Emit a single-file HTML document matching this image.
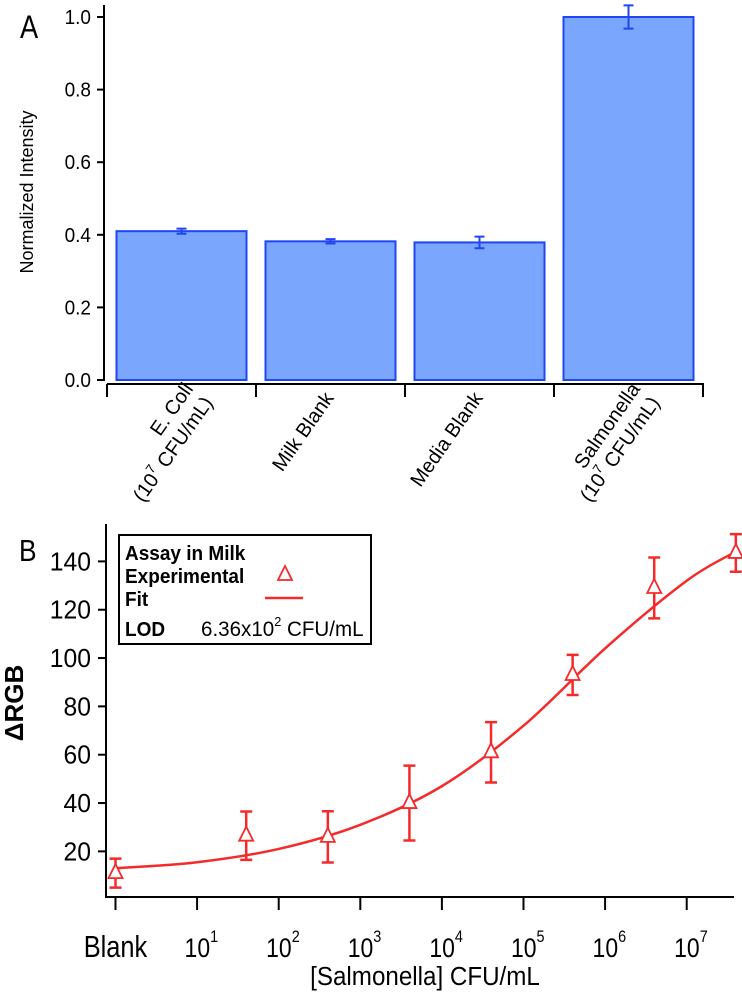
<!DOCTYPE html>
<html><head><meta charset="utf-8"><style>
html,body{margin:0;padding:0;background:#fff;}
svg{display:block;font-family:"Liberation Sans",Arial,sans-serif;}
</style></head><body>
<svg id="chart" width="742" height="992" viewBox="0 0 742 992" xmlns="http://www.w3.org/2000/svg">
<g id="pa"></g>
<g id="pb"></g>
</svg>
<script>
// Panel A data
const catsA = ["E. Coli|(10^7 CFU/mL)", "Milk Blank", "Media Blank", "Salmonella|(10^7 CFU/mL)"];
const valsA = [0.41, 0.382, 0.379, 1.0];
const errsA = [0.007, 0.006, 0.016, 0.032];
const ticksA = [0.0, 0.2, 0.4, 0.6, 0.8, 1.0];
// Panel B data
const xLogB = [0, 1.602, 2.602, 3.602, 4.602, 5.602, 6.602, 7.602];
const valsB = [11, 26.5, 26, 40, 61, 93, 129, 143.5];
const errsB = [6, 10, 10.6, 15.5, 12.5, 8.3, 12.6, 7.8];
const fitLogB = [0, 1, 2, 3, 4, 5, 6, 7, 7.6];
const fitValsB = [13, 15.5, 21, 31, 47, 72, 104, 132, 144];
const ticksBY = [20, 40, 60, 80, 100, 120, 140];
const ticksBX = [0, 1, 2, 3, 4, 5, 6, 7];

const NS = "http://www.w3.org/2000/svg";
function mk(parent, tag, attrs, text) {
  const e = document.createElementNS(NS, tag);
  for (const k in attrs) e.setAttribute(k, attrs[k]);
  if (text !== undefined) e.textContent = text;
  parent.appendChild(e);
  return e;
}
const pa = document.getElementById('pa');
const pb = document.getElementById('pb');

// ---------- Panel A ----------
const yA = v => 380 - v * 363;
const bandW = 149, x0A = 107;
const xA = i => x0A + bandW * i + bandW / 2;
let t;
t = mk(pa, 'text', {x: 20, y: 38, 'font-size': 32, transform: 'translate(20,0) scale(0.85,1) translate(-20,0)'}, 'A');


let ax = mk(pa, 'line', {x1: 104, y1: 5, x2: 104, y2: 381, stroke: '#000', 'stroke-width': 2});


ticksA.forEach(v => {
  const l = mk(pa, 'line', {x1: 97, x2: 104, y1: yA(v), y2: yA(v), stroke: '#000', 'stroke-width': 2});
  
  
  const tx = mk(pa, 'text', {x: 91, y: yA(v) + 7, 'font-size': 20, 'text-anchor': 'end', transform: `translate(91,0) scale(0.95,1) translate(-91,0)`}, v.toFixed(1));
  
  
});
t = mk(pa, 'text', {x: 0, y: 0, 'font-size': 18, 'text-anchor': 'middle', transform: 'translate(33,192) rotate(-90)'}, 'Normalized Intensity');


ax = mk(pa, 'line', {x1: 107, y1: 384, x2: 704, y2: 384, stroke: '#000', 'stroke-width': 2});


for (let i = 0; i <= catsA.length; i++) {
  const xx = x0A + bandW * i;
  const l = mk(pa, 'line', {x1: xx, x2: xx, y1: 384, y2: 397, stroke: '#000', 'stroke-width': 2});
  
  
}
catsA.forEach((c, i) => {
  const cx = xA(i);
  const b = mk(pa, 'rect', {x: cx - 65, y: yA(valsA[i]), width: 130, height: yA(0) - yA(valsA[i]), fill: '#7ba6fd', stroke: '#1f45f5', 'stroke-width': 2});
  
  
  const e = errsA[i];
  const eg = mk(pa, 'path', {d: `M${cx},${yA(valsA[i] + e)}V${yA(valsA[i] - e)}M${cx - 5},${yA(valsA[i] + e)}H${cx + 5}M${cx - 5},${yA(valsA[i] - e)}H${cx + 5}`, stroke: '#1f45f5', 'stroke-width': 2, fill: 'none'});
  
  
  const lines = c.split('|');
  const g = mk(pa, 'text', {'font-size': 20, 'text-anchor': 'end', transform: `translate(${cx + 4},398) rotate(-55)`});
  
  
  lines.forEach((ln, k) => {
    const ts = mk(g, 'tspan', {x: 0, dy: k === 0 ? (lines.length > 1 ? -2 : 0) : 24});
    if (ln.indexOf('^') >= 0) {
      const m = ln.match(/^(\(10)\^(\d+)( CFU\/mL\))$/);
      ts.textContent = m[1];
      mk(g, 'tspan', {'font-size': 13, dy: -9}, m[2]);
      mk(g, 'tspan', {dy: 9}, m[3]);
    } else ts.textContent = ln;
  });
  if (lines.length > 1) g.setAttribute('transform', `translate(${cx + 14},390) rotate(-55)`);
});

// ---------- Panel B ----------
const yB = v => 899.7 - v * 48.33 / 20;
const xB = l => 115.5 + l * 81.6;
t = mk(pb, 'text', {x: 19, y: 561, 'font-size': 31, transform: 'translate(19,0) scale(0.85,1) translate(-19,0)'}, 'B');


ax = mk(pb, 'line', {x1: 106, y1: 524, x2: 106, y2: 898, stroke: '#000', 'stroke-width': 2});


ax = mk(pb, 'line', {x1: 105, y1: 897, x2: 734, y2: 897, stroke: '#000', 'stroke-width': 2});


ticksBY.forEach(v => {
  const l = mk(pb, 'line', {x1: 98, x2: 106, y1: yB(v), y2: yB(v), stroke: '#000', 'stroke-width': 2});
  
  
  const tx = mk(pb, 'text', {x: 91, y: yB(v) + 9, 'font-size': 26, 'text-anchor': 'end', transform: `translate(91,0) scale(0.95,1) translate(-91,0)`}, String(v));
  
  
});
ticksBX.forEach(l => {
  const xx = xB(l);
  const tk = mk(pb, 'line', {x1: xx, x2: xx, y1: 897, y2: 910, stroke: '#000', 'stroke-width': 2});
  
  
  let tx;
  if (l === 0) {
    tx = mk(pb, 'text', {x: xx, y: 957, 'font-size': 31, 'text-anchor': 'middle', transform: `translate(${xx},0) scale(0.82,1) translate(${-xx},0)`}, 'Blank');
  } else {
    tx = mk(pb, 'text', {x: xx + 5, y: 957, 'font-size': 27, 'text-anchor': 'middle', transform: `translate(${xx},0) scale(0.85,1) translate(${-xx},0)`});
    mk(tx, 'tspan', {}, '10');
    mk(tx, 'tspan', {'font-size': 17, dy: -15}, String(l));
  }
  
  
});
t = mk(pb, 'text', {x: 425, y: 985, 'font-size': 26, 'text-anchor': 'middle', transform: 'translate(425,0) scale(0.93,1) translate(-425,0)'}, '[Salmonella] CFU/mL');


t = mk(pb, 'text', {x: 0, y: 0, 'font-size': 26, 'font-weight': 'bold', 'text-anchor': 'middle', transform: 'translate(23,703) rotate(-90)'}, 'ΔRGB');



// fit curve (Catmull-Rom)
const pts = fitLogB.map((l, i) => [xB(l), yB(fitValsB[i])]);
let d = `M${pts[0][0]},${pts[0][1]}`;
for (let i = 0; i < pts.length - 1; i++) {
  const p0 = pts[Math.max(0, i - 1)], p1 = pts[i], p2 = pts[i + 1], p3 = pts[Math.min(pts.length - 1, i + 2)];
  const c1 = [p1[0] + (p2[0] - p0[0]) / 6, p1[1] + (p2[1] - p0[1]) / 6];
  const c2 = [p2[0] - (p3[0] - p1[0]) / 6, p2[1] - (p3[1] - p1[1]) / 6];
  d += `C${c1[0]},${c1[1]} ${c2[0]},${c2[1]} ${p2[0]},${p2[1]}`;
}
const fit = mk(pb, 'path', {d: d, stroke: '#f52a2a', 'stroke-width': 2.5, fill: 'none'});



xLogB.forEach((l, i) => {
  const cx = xB(l), cy = yB(valsB[i]);
  const e = errsB[i];
  const eb = mk(pb, 'path', {d: `M${cx},${yB(valsB[i] + e)}V${yB(valsB[i] - e)}M${cx - 6},${yB(valsB[i] + e)}H${cx + 6}M${cx - 6},${yB(valsB[i] - e)}H${cx + 6}`, stroke: '#f52a2a', 'stroke-width': 2.5, fill: 'none'});
  
  
  const tr = mk(pb, 'path', {d: `M${cx},${cy - 9}L${cx + 7},${cy + 5}L${cx - 7},${cy + 5}Z`, stroke: '#f52a2a', 'stroke-width': 1.8, fill: '#fff'});
  
  
});

// legend
const lg = mk(pb, 'g', {});


mk(lg, 'rect', {x: 119, y: 535, width: 252, height: 109, fill: '#fff', stroke: '#000', 'stroke-width': 2});
const lt = (x, y, s, w, fs, sc) => {
  const e = mk(lg, 'text', {x: x, y: y, 'font-size': fs || 20, 'font-weight': w || 'bold', transform: `translate(${x},0) scale(${sc || 0.95},1) translate(${-x},0)`}, s);
  
  
  return e;
};
lt(125, 560, 'Assay in Milk');
lt(125, 583, 'Experimental');
lt(125, 606, 'Fit');
lt(125, 636, 'LOD');
const lod = lt(201, 636, '6.36x10', 'normal', 21, 0.98);
mk(lod, 'tspan', {'font-size': 13, dy: -10}, '2');
mk(lod, 'tspan', {dy: 10}, ' CFU/mL');
mk(lg, 'path', {d: 'M285,566L292,580L278,580Z', stroke: '#f52a2a', 'stroke-width': 1.8, fill: '#fff'});
mk(lg, 'line', {x1: 265, x2: 303, y1: 598, y2: 598, stroke: '#f52a2a', 'stroke-width': 2.5});
</script>
</body></html>
